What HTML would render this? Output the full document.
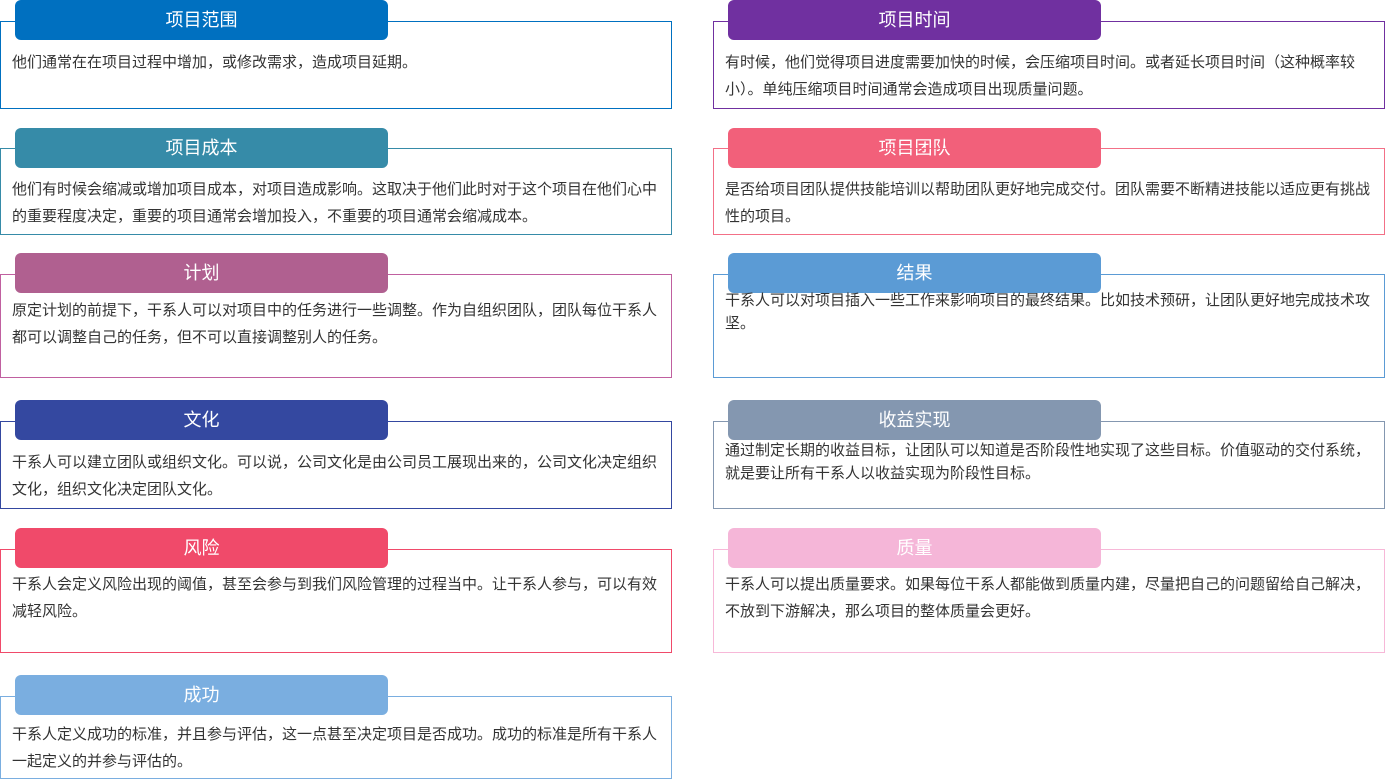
<!DOCTYPE html>
<html><head><meta charset="utf-8"><style>
body{margin:0;width:1386px;height:779px;background:#fff;position:relative;overflow:hidden;font-family:"Liberation Sans","Noto Sans CJK SC",sans-serif}
.b{position:absolute;box-sizing:border-box;border:1.5px solid;background:transparent}
.p{position:absolute;height:40px;width:373px;border-radius:6px;color:#fff;font-size:18px;line-height:40px;text-align:center}
.t{position:absolute;font-size:15px;letter-spacing:0px;line-height:27px;color:#333;white-space:nowrap}
</style></head><body>

<div class="b" style="left:0;top:21px;width:672px;height:88px;border-color:#0070c0"></div>
<div class="p" style="left:15px;top:0;background:#0070c0">项目范围</div>
<div class="t" style="left:12px;top:49px">他们通常在在项目过程中增加，或修改需求，造成项目延期。</div>

<div class="b" style="left:0;top:148px;width:672px;height:87px;border-color:#368ba8"></div>
<div class="p" style="left:15px;top:128px;background:#368ba8">项目成本</div>
<div class="t" style="left:12px;top:176px">他们有时候会缩减或增加项目成本，对项目造成影响。这取决于他们此时对于这个项目在他们心中<br>的重要程度决定，重要的项目通常会增加投入，不重要的项目通常会缩减成本。</div>

<div class="b" style="left:0;top:274px;width:672px;height:104px;border-color:#c060a0"></div>
<div class="p" style="left:15px;top:253px;background:#b06090">计划</div>
<div class="t" style="left:12px;top:297px">原定计划的前提下，干系人可以对项目中的任务进行一些调整。作为自组织团队，团队每位干系人<br>都可以调整自己的任务，但不可以直接调整别人的任务。</div>

<div class="b" style="left:0;top:421px;width:672px;height:88px;border-color:#3448a0"></div>
<div class="p" style="left:15px;top:400px;background:#3448a0">文化</div>
<div class="t" style="left:12px;top:449px">干系人可以建立团队或组织文化。可以说，公司文化是由公司员工展现出来的，公司文化决定组织<br>文化，组织文化决定团队文化。</div>

<div class="b" style="left:0;top:549px;width:672px;height:104px;border-color:#f04a6a"></div>
<div class="p" style="left:15px;top:528px;background:#f04a6a">风险</div>
<div class="t" style="left:12px;top:571px">干系人会定义风险出现的阈值，甚至会参与到我们风险管理的过程当中。让干系人参与，可以有效<br>减轻风险。</div>

<div class="b" style="left:0;top:696px;width:672px;height:83px;border-color:#7aaee0"></div>
<div class="p" style="left:15px;top:675px;background:#7aaee0">成功</div>
<div class="t" style="left:12px;top:721px">干系人定义成功的标准，并且参与评估，这一点甚至决定项目是否成功。成功的标准是所有干系人<br>一起定义的并参与评估的。</div>

<div class="b" style="left:713px;top:21px;width:672px;height:88px;border-color:#7030a0"></div>
<div class="p" style="left:728px;top:0;background:#7030a0">项目时间</div>
<div class="t" style="left:725px;top:49px">有时候，他们觉得项目进度需要加快的时候，会压缩项目时间。或者延长项目时间（这种概率较<br>小）。单纯压缩项目时间通常会造成项目出现质量问题。</div>

<div class="p" style="left:728px;top:128px;background:#f2607a">项目团队</div>
<div class="b" style="left:713px;top:148px;width:672px;height:87px;border-color:rgba(242,96,122,0.9)"></div>
<div class="t" style="left:725px;top:176px">是否给项目团队提供技能培训以帮助团队更好地完成交付。团队需要不断精进技能以适应更有挑战<br>性的项目。</div>

<div class="b" style="left:713px;top:274px;width:672px;height:104px;border-color:#5b9bd5"></div>
<div class="p" style="left:728px;top:253px;background:#5b9bd5">结果</div>
<div class="t" style="left:725px;top:289px;line-height:23px">干系人可以对项目插入一些工作来影响项目的最终结果。比如技术预研，让团队更好地完成技术攻<br>坚。</div>

<div class="b" style="left:713px;top:421px;width:672px;height:88px;border-color:#8497b0"></div>
<div class="p" style="left:728px;top:400px;background:#8497b0">收益实现</div>
<div class="t" style="left:725px;top:439px;line-height:23px">通过制定长期的收益目标，让团队可以知道是否阶段性地实现了这些目标。价值驱动的交付系统，<br>就是要让所有干系人以收益实现为阶段性目标。</div>

<div class="b" style="left:713px;top:549px;width:672px;height:104px;border-color:#f7b8d8"></div>
<div class="p" style="left:728px;top:528px;background:#f5b6d8">质量</div>
<div class="t" style="left:725px;top:571px">干系人可以提出质量要求。如果每位干系人都能做到质量内建，尽量把自己的问题留给自己解决，<br>不放到下游解决，那么项目的整体质量会更好。</div>

</body></html>
